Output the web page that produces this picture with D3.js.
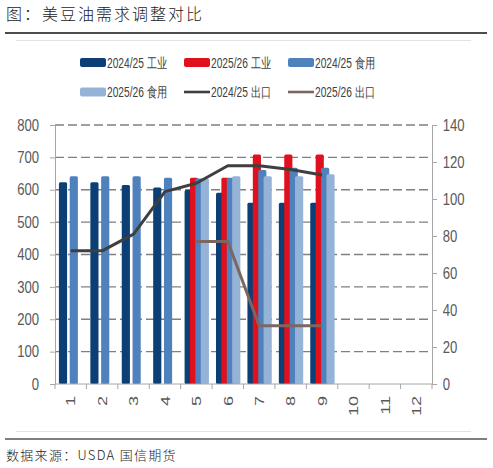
<!DOCTYPE html>
<html>
<head>
<meta charset="utf-8">
<script src="https://cdnjs.cloudflare.com/ajax/libs/d3/7.8.5/d3.min.js"></script>
<style>
  body { margin:0; background:#fff; }
  text { font-family: "Liberation Sans", Arial, sans-serif; }
  .cn { font-family: "Noto Sans CJK SC", sans-serif; }
</style>
</head>
<body>
<script>
// months and tick labels
var months = ["1","2","3","4","5","6","7","8","9","10","11","12"];
var leftTicks = [0,100,200,300,400,500,600,700,800];
var rightTicks = [0,20,40,60,80,100,120,140];

// bars (left axis)
var ind2425  = [623,623,615,607,599,591,560,560,560,null,null,null];
var ind2526  = [null,null,null,null,637,637,709,709,709,null,null,null];
var food2425 = [642,642,642,637,635,637,661,668,668,null,null,null];
var food2526 = [null,null,null,null,635,642,642,642,648,null,null,null];

// lines (right axis)
var exp2425 = [72,72,81,104,108.5,118,118,116,113,null,null,null];
var exp2526 = [null,null,null,null,77,77,31.5,31.5,31.5,null,null,null];

var barSeries = [
    {name:"2024/25 工业", values:ind2425,  color:"#0b3f75"},
    {name:"2025/26 工业", values:ind2526,  color:"#e0101c"},
    {name:"2024/25 食用", values:food2425, color:"#4f81bd"},
    {name:"2025/26 食用", values:food2526, color:"#95b3d7"}
]
var lineSeries = [
    {name:"2024/25 出口", values:exp2425, color:"#3f3f3f"},
    {name:"2025/26 出口", values:exp2526, color:"#7c6760"}
]

var screen = {width:493, height:468}
var margins = {top:125, bottom:84, left:55, right:61}
var graph = {
    width:screen.width-margins.left-margins.right,
    height:screen.height-margins.top-margins.bottom
}

var svg = d3.select("body").append("svg")
    .attr("width", screen.width)
    .attr("height", screen.height)

var xScale = d3.scaleBand()
    .domain(months)
    .range([margins.left, margins.left+graph.width])
var bw = xScale.bandwidth()
var x1 = d3.scalePoint()
    .domain(barSeries.map(function(s){return s.name}))
    .range([bw*0.125, bw*0.64])
var barW = bw*0.26

var yLeft = d3.scaleLinear().domain([0,800]).range([margins.top+graph.height, margins.top])
var yRight = d3.scaleLinear().domain([0,140]).range([margins.top+graph.height, margins.top])

// header + footer rules
svg.append("text").classed("cn", true)
    .text("图：美豆油需求调整对比")
    .attr("x", 6).attr("y", 20)
    .attr("font-size", 16)
    .attr("font-weight", 300)
    .attr("letter-spacing", 2)
    .attr("fill", "#1a1a1a")
svg.append("line").attr("x1",5).attr("x2",487).attr("y1",33).attr("y2",33)
    .attr("stroke","#111").attr("stroke-width",1.5)
svg.append("line").attr("x1",16).attr("x2",471).attr("y1",40.5).attr("y2",40.5)
    .attr("stroke","#e3e3e3").attr("stroke-width",1)
svg.append("line").attr("x1",16).attr("x2",471).attr("y1",431.5).attr("y2",431.5)
    .attr("stroke","#e3e3e3").attr("stroke-width",1)
svg.append("line").attr("x1",5).attr("x2",487).attr("y1",439).attr("y2",439)
    .attr("stroke","#555").attr("stroke-width",1.5)
svg.append("text").classed("cn", true)
    .text("数据来源：USDA 国信期货")
    .attr("x", 6).attr("y", 460)
    .attr("font-size", 13)
    .attr("font-weight", 300)
    .attr("letter-spacing", 1.3)
    .attr("fill", "#1a1a1a")

// gridlines
svg.append("g").selectAll("line")
    .data(leftTicks.filter(function(d){return d>0}))
    .enter().append("line")
    .attr("x1", margins.left).attr("x2", margins.left+graph.width)
    .attr("y1", function(d){return yLeft(d)}).attr("y2", function(d){return yLeft(d)})
    .attr("stroke", "#808080").attr("stroke-width", 1.3)
    .attr("stroke-dasharray", "9,4")

// bars
barSeries.forEach(function(s)
{
    svg.append("g").selectAll("rect")
        .data(s.values.map(function(v,i){return {m:months[i], v:v}}).filter(function(d){return d.v!=null}))
        .enter().append("rect")
        .attr("x", function(d){return xScale(d.m)+x1(s.name)})
        .attr("width", barW)
        .attr("y", function(d){return yLeft(d.v)})
        .attr("height", function(d){return yLeft(0)-yLeft(d.v)})
        .attr("rx", 1.5)
        .attr("fill", s.color)
})

// lines
var lineGenerator = d3.line()
    .defined(function(d){return d.v!=null})
    .x(function(d){return xScale(d.m)+bw/2})
    .y(function(d){return yRight(d.v)})
lineSeries.forEach(function(s)
{
    svg.append("path")
        .datum(s.values.map(function(v,i){return {m:months[i], v:v}}))
        .attr("d", lineGenerator)
        .attr("fill", "none")
        .attr("stroke", s.color)
        .attr("stroke-width", 3)
        .attr("stroke-linejoin", "round")
})

// axes
var axisColor = "#a6a6a6", labelColor = "#595959"
var left = svg.append("g")
    .attr("transform", "translate("+margins.left+",0)")
    .call(d3.axisLeft(yLeft).tickValues(leftTicks).tickSize(5).tickSizeOuter(0))
left.selectAll("text")
    .attr("x", -19.5)
    .attr("transform", "scale(0.82,1)")
    .attr("font-size", 16).attr("fill", labelColor)

var right = svg.append("g")
    .attr("transform", "translate("+(margins.left+graph.width)+",0)")
    .call(d3.axisRight(yRight).tickValues(rightTicks).tickSize(5).tickSizeOuter(0))
right.selectAll("text")
    .attr("x", 13)
    .attr("transform", "scale(0.82,1)")
    .attr("font-size", 16).attr("fill", labelColor)

svg.selectAll(".domain, .tick line").attr("stroke", axisColor)
svg.selectAll(".tick text").attr("font-family", "Liberation Sans, Arial, sans-serif")

var bottom = svg.append("g")
svg.append("line")
    .attr("x1", margins.left).attr("x2", margins.left+graph.width)
    .attr("y1", yLeft(0)).attr("y2", yLeft(0))
    .attr("stroke", axisColor)
bottom.selectAll("line")
    .data(months.concat(["end"]))
    .enter().append("line")
    .attr("x1", function(d){return d=="end" ? margins.left+graph.width : xScale(d)})
    .attr("x2", function(d){return d=="end" ? margins.left+graph.width : xScale(d)})
    .attr("y1", yLeft(0)).attr("y2", yLeft(0)+5)
    .attr("stroke", axisColor)
bottom.selectAll("text")
    .data(months)
    .enter().append("text")
    .text(function(d){return d})
    .attr("text-anchor", "end")
    .attr("dy", "0.35em")
    .attr("font-size", 18)
    .attr("fill", labelColor)
    .attr("transform", function(d){return "translate("+(xScale(d)+bw/2)+",396) scale(0.75,1) rotate(-90)"})

// legend
var legendItems = [
    {s:barSeries[0], type:"bar", col:0, row:0},
    {s:barSeries[1], type:"bar", col:1, row:0},
    {s:barSeries[2], type:"bar", col:2, row:0},
    {s:barSeries[3], type:"bar", col:0, row:1},
    {s:lineSeries[0], type:"line", col:1, row:1},
    {s:lineSeries[1], type:"line", col:2, row:1}
]
var legend = svg.append("g").classed("legend", true)
var items = legend.selectAll("g")
    .data(legendItems)
    .enter().append("g")
    .attr("transform", function(d){return "translate("+(80+d.col*104)+","+(62.5+d.row*29.5)+")"})
items.append("rect")
    .attr("x", 0).attr("width", 26)
    .attr("y", function(d){return d.type=="bar" ? -4.5 : -1.3})
    .attr("height", function(d){return d.type=="bar" ? 9 : 2.6})
    .attr("rx", function(d){return d.type=="bar" ? 2 : 0})
    .attr("fill", function(d){return d.s.color})
items.append("text")
    .text(function(d){return d.s.name})
    .attr("font-size", 14)
    .attr("fill", "#404040")
    .attr("dy", "0.36em")
    .attr("transform", "translate(27,0) scale(0.73,1)")
</script>
</body>
</html>
